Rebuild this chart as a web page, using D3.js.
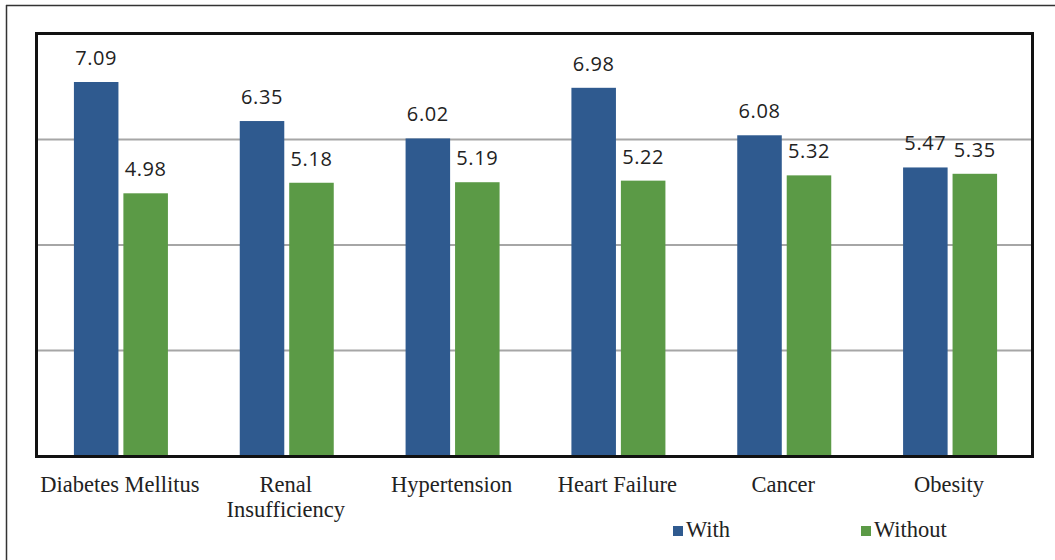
<!DOCTYPE html>
<html>
<head>
<meta charset="utf-8">
<script src="https://cdn.jsdelivr.net/npm/d3@7"></script>
<style>
  html, body { margin: 0; padding: 0; background: #fff; }
  svg { display: block; }
</style>
</head>
<body>
<svg id="chart" width="1055" height="560"></svg>
<script>
const categories = ["Diabetes Mellitus", "Renal\nInsufficiency", "Hypertension", "Heart Failure", "Cancer", "Obesity"];
const withValues = [7.09, 6.35, 6.02, 6.98, 6.08, 5.47];
const withoutValues = [4.98, 5.18, 5.19, 5.22, 5.32, 5.35];
const seriesNames = ["With", "Without"];
const gridTicks = [2, 4, 6];

const svg = d3.select("#chart");
const colors = { With: "#2F5A8F", Without: "#5B9A46" };

const plot = { left: 37, right: 1032, top: 34, bottom: 456 };
const groupWidth = 94;

// outer frame (top and left edges only visible)
svg.append("line").attr("x1", 6).attr("x2", 1055).attr("y1", 5.5).attr("y2", 5.5)
    .attr("stroke", "#333").attr("stroke-width", 1.5);
svg.append("line").attr("x1", 6.5).attr("x2", 6.5).attr("y1", 5).attr("y2", 560)
    .attr("stroke", "#333").attr("stroke-width", 1.5);

const x = d3.scaleBand()
    .domain(categories)
    .range([plot.left, plot.right]);

const xInner = d3.scaleBand()
    .domain(seriesNames)
    .range([0, groupWidth])
    .paddingInner(0.1);

const y = d3.scaleLinear().domain([0, 8]).range([plot.bottom, plot.top]);

// gridlines
svg.append("g")
    .selectAll("line")
    .data(gridTicks)
    .join("line")
    .attr("x1", plot.left).attr("x2", plot.right)
    .attr("y1", d => y(d)).attr("y2", d => y(d))
    .attr("stroke", "#A6A6A6").attr("stroke-width", 2);

const data = categories.map((c, i) => ({ cat: c, values: [
    { key: "With", value: withValues[i] },
    { key: "Without", value: withoutValues[i] }
] }));

const groups = svg.append("g")
    .selectAll("g")
    .data(data)
    .join("g")
    .attr("transform", d => `translate(${x(d.cat) + (x.bandwidth() - groupWidth) / 2 + 1},0)`);

groups.selectAll("rect")
    .data(d => d.values)
    .join("rect")
    .attr("x", d => xInner(d.key))
    .attr("width", xInner.bandwidth())
    .attr("y", d => y(d.value))
    .attr("height", d => y(0) - y(d.value))
    .attr("fill", d => colors[d.key]);

groups.selectAll("text")
    .data(d => d.values)
    .join("text")
    .attr("x", d => xInner(d.key) + xInner.bandwidth() / 2)
    .attr("y", d => y(d.value) - 17)
    .attr("text-anchor", "middle")
    .attr("font-family", "'Open Sans', 'DejaVu Sans', sans-serif")
    .attr("font-size", 20)
    .attr("letter-spacing", 0.6)
    .attr("fill", "#222")
    .text(d => d.value.toFixed(2));

// plot frame
svg.append("rect")
    .attr("x", plot.left - 0.5).attr("y", plot.top - 0.5)
    .attr("width", plot.right - plot.left + 1).attr("height", plot.bottom - plot.top + 1)
    .attr("fill", "none").attr("stroke", "#111").attr("stroke-width", 3);

// category labels
const labels = svg.append("g")
    .selectAll("text")
    .data(categories)
    .join("text")
    .attr("x", d => x(d) + x.bandwidth() / 2)
    .attr("y", 492)
    .attr("text-anchor", "middle")
    .attr("font-family", "'Liberation Serif', 'Times New Roman', serif")
    .attr("font-size", 22.5)
    .attr("fill", "#222");

labels.selectAll("tspan")
    .data(d => d.split("\n"))
    .join("tspan")
    .attr("x", function () { return d3.select(this.parentNode).attr("x"); })
    .attr("dy", (d, i) => i === 0 ? 0 : 25)
    .text(d => d);

// legend
const legendX = [673, 861];
const legend = svg.append("g")
    .selectAll("g")
    .data(seriesNames)
    .join("g")
    .attr("transform", (d, i) => `translate(${legendX[i]},526)`);

legend.append("rect")
    .attr("width", 10).attr("height", 10)
    .attr("fill", d => colors[d]);

legend.append("text")
    .attr("x", 13).attr("y", 11)
    .attr("font-family", "'Liberation Serif', 'Times New Roman', serif")
    .attr("font-size", 22.5)
    .attr("fill", "#222")
    .text(d => d);
</script>
</body>
</html>
